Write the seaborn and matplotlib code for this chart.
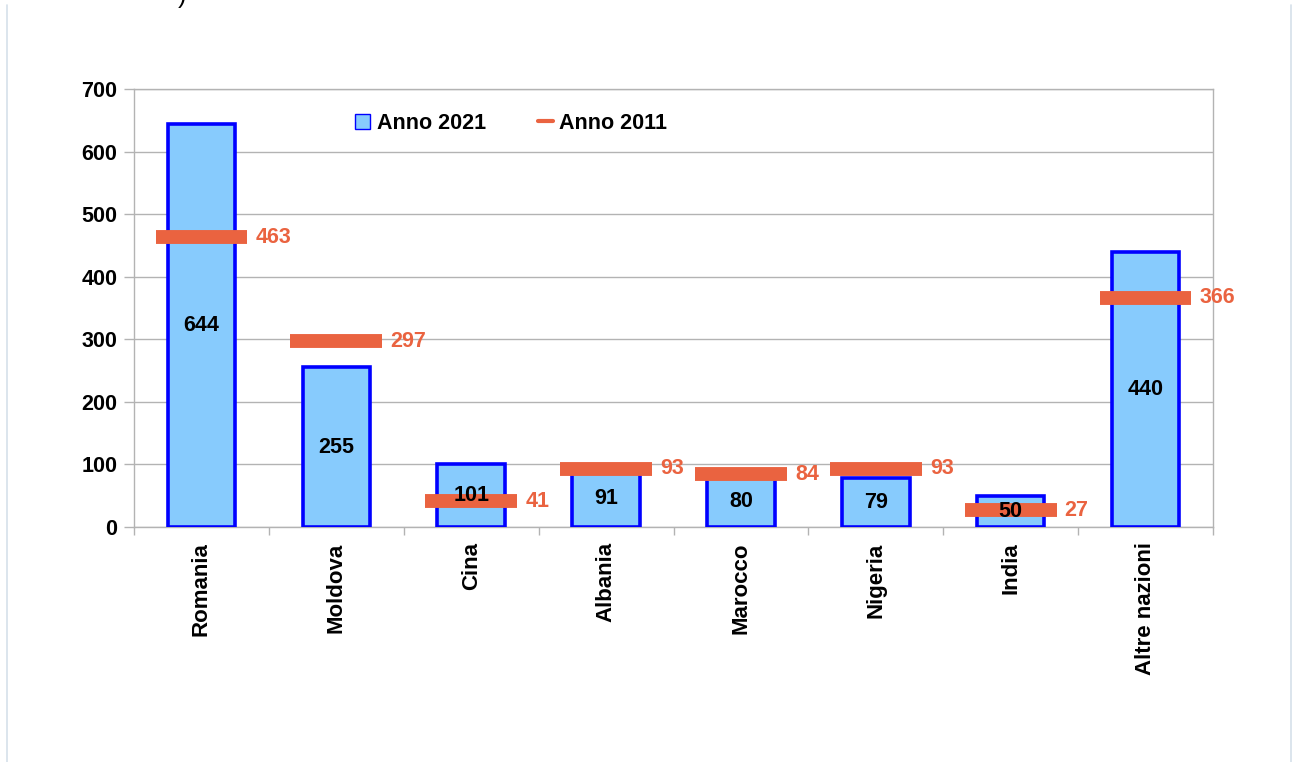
import matplotlib
matplotlib.use('Agg')
import matplotlib.pyplot as plt
from matplotlib.patches import Patch
from matplotlib.lines import Line2D
import pandas as pd
import seaborn as sns

paesi = ['Romania', 'Moldova', 'Cina', 'Albania', 'Marocco', 'Nigeria', 'India', 'Altre nazioni']
anno_2021 = [644, 255, 101, 91, 80, 79, 50, 440]
anno_2011 = [463, 297, 41, 93, 84, 93, 27, 366]

df = pd.DataFrame({'Paese': paesi, 'Anno 2021': anno_2021, 'Anno 2011': anno_2011})

sns.set_theme(style='white')
plt.rcParams['font.family'] = ['Liberation Sans', 'DejaVu Sans']
plt.rcParams['font.weight'] = 'bold'
plt.rcParams['text.color'] = 'black'
plt.rcParams['xtick.color'] = 'black'
plt.rcParams['ytick.color'] = 'black'

blu = '#0000ff'
azzurro = '#87cbfd'
arancio = '#ea6340'
fs = 15.5

fig = plt.figure(figsize=(12.93, 7.62), dpi=100)
ax = fig.add_axes([134 / 1293, 1 - 527 / 762, (1213 - 134) / 1293, (527 - 89) / 762])

sns.barplot(data=df, x='Paese', y='Anno 2021', ax=ax, color=azzurro, width=0.5,
            edgecolor=blu, linewidth=2.6, saturation=1, zorder=3)

pos = range(len(paesi))
ax.hlines(df['Anno 2011'], [p - 0.34 for p in pos], [p + 0.34 for p in pos],
          colors=arancio, linewidth=10, zorder=4, capstyle='butt')

for p, v21, v11 in zip(pos, df['Anno 2021'], df['Anno 2011']):
    ax.text(p, v21 / 2, str(v21), ha='center', va='center', fontsize=fs,
            fontweight='bold', color='black', zorder=5)
    ax.text(p + 0.4, v11, str(v11), ha='left', va='center', fontsize=fs,
            fontweight='bold', color=arancio, zorder=5)

ax.set_xlim(-0.5, len(paesi) - 0.5)
ax.set_ylim(0, 700)
ax.set_yticks(range(0, 701, 100))
ax.set_xlabel('')
ax.set_ylabel('')
ax.yaxis.grid(True, color='#b3b3b3', linewidth=1)
ax.set_axisbelow(True)
for s in ax.spines.values():
    s.set_color('#b3b3b3')
    s.set_linewidth(1)

ax.set_xticks(list(pos))
ax.set_xticklabels(paesi, rotation=90, fontsize=16, fontweight='bold', va='top', color='black')
ax.set_xticks([p + 0.5 for p in range(-1, len(paesi))], minor=True)
ax.tick_params(axis='x', which='major', length=0, pad=11)
ax.tick_params(axis='x', which='minor', length=6, color='#b3b3b3', width=1, bottom=True)
ax.tick_params(axis='y', length=7, color='#b3b3b3', width=1, left=True, labelsize=fs, pad=5)
for t in ax.get_yticklabels():
    t.set_fontweight('bold')
    t.set_color('black')

handles = [Patch(facecolor=azzurro, edgecolor=blu, linewidth=1),
           Line2D([0], [0], color=arancio, linewidth=3)]
ax.legend(handles, ['Anno 2021', 'Anno 2011'], loc='center left', bbox_to_anchor=(0.205, 0.922),
          ncol=2, frameon=False, prop={'size': fs, 'weight': 'bold'},
          handlelength=0.7, handleheight=0.7, handletextpad=0.3, columnspacing=2.4,
          borderaxespad=0, borderpad=0)

# bordo del riquadro
fig.add_artist(Line2D([7 / 1293, 7 / 1293], [0, 1 - 5 / 762], color='#d5e0ea', linewidth=1.2))
fig.add_artist(Line2D([1291 / 1293, 1291 / 1293], [0, 1 - 5 / 762], color='#d5e0ea', linewidth=1.2))
fig.text(178 / 1293, 1 - 8 / 762, ')', fontsize=18, va='bottom', ha='left', fontweight='normal')

fig.savefig('out.png', dpi=100)
